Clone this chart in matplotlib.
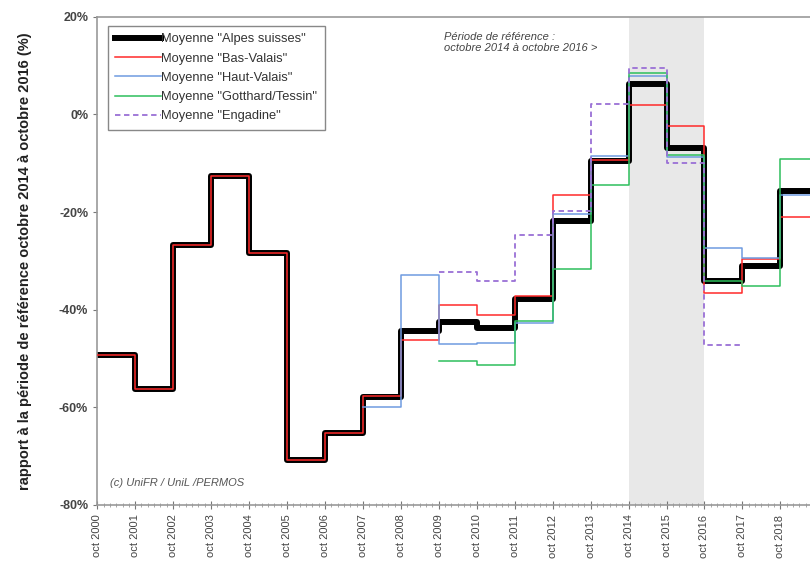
# Évolution des vitesses des glaciers rocheux par rapport à oct 2014 - oct 2016
import numpy as np
import matplotlib.pyplot as plt
from matplotlib.ticker import MultipleLocator, FuncFormatter

plt.rcParams['font.family'] = ['Liberation Sans', 'DejaVu Sans']

# années de début de chaque intervalle (oct année -> oct année+1)
years_all = list(range(2000, 2019))
alpes = [-49.2, -56.2, -26.7, -12.7, -28.3, -70.8, -65.3, -58.0, -44.3, -42.6,
         -43.8, -37.8, -21.9, -9.6, 6.3, -6.8, -34.2, -31.1, -15.6]
bas_valais = [-49.2, -56.2, -26.7, -12.7, -28.3, -70.8, -65.3, -57.8, -46.3, -39.0,
              -41.0, -37.3, -16.6, -9.4, 1.9, -2.3, -36.5, -29.6, -21.0]

years_hv = list(range(2007, 2019))
haut_valais = [-60.0, -33.0, -47.0, -46.8, -42.8, -20.3, -8.6, 7.9, -8.7,
               -27.3, -29.4, -16.5]

years_gt = list(range(2009, 2019))
gotthard = [-50.5, -51.4, -42.4, -31.6, -14.5, 8.6, -8.3, -34.2, -35.1, -9.2]

years_en = list(range(2009, 2017))
engadine = [-32.2, -34.2, -24.8, -19.7, 2.2, 9.6, -10.0, -47.2]


def steps(years, vals):
    x = list(years) + [years[-1] + 1]
    y = list(vals) + [vals[-1]]
    return x, y


fig = plt.figure(figsize=(8.1, 5.64), dpi=100)
ax = fig.add_axes([0.12, 0.105, 0.88, 0.865])

# période de référence
ax.axvspan(2014, 2016, color='#e8e8e8', zorder=0, lw=0)

x, y = steps(years_all, alpes)
ax.plot(x, y, drawstyle='steps-post', color='black', lw=4.3,
        label='Moyenne "Alpes suisses"', zorder=2)
x, y = steps(years_all, bas_valais)
ax.plot(x, y, drawstyle='steps-post', color='#ff2a2a', lw=1.1,
        label='Moyenne "Bas-Valais"', zorder=3)
x, y = steps(years_hv, haut_valais)
ax.plot(x, y, drawstyle='steps-post', color='#6f9be0', lw=1.1,
        label='Moyenne "Haut-Valais"', zorder=3)
x, y = steps(years_gt, gotthard)
ax.plot(x, y, drawstyle='steps-post', color='#2dbf5c', lw=1.1,
        label='Moyenne "Gotthard/Tessin"', zorder=3)
x, y = steps(years_en, engadine)
ax.plot(x, y, drawstyle='steps-post', color='#9a70d6', lw=1.3, ls=(0, (3, 2)),
        label='Moyenne "Engadine"', zorder=3)

ax.set_xlim(2000, 2018.78)
ax.set_ylim(-80, 20)

ax.xaxis.set_major_locator(MultipleLocator(1))
ax.xaxis.set_minor_locator(MultipleLocator(1 / 6))
ax.xaxis.set_major_formatter(FuncFormatter(lambda v, p: 'oct %d' % round(v)))
ax.yaxis.set_major_locator(MultipleLocator(20))
ax.yaxis.set_major_formatter(FuncFormatter(lambda v, p: '%d%%' % round(v)))

ax.tick_params(axis='x', which='major', direction='inout', length=6, width=0.8,
               color='#777777', labelsize=8, labelrotation=90, labelcolor='#444444', pad=4)
ax.tick_params(axis='x', which='minor', direction='inout', length=3, width=0.6,
               color='#999999')
ax.tick_params(axis='y', which='major', direction='out', length=3, width=0.8,
               color='#777777', labelsize=9, labelcolor='#444444')
for lab in ax.get_yticklabels():
    lab.set_fontweight('bold')

for side in ['left', 'bottom', 'top']:
    ax.spines[side].set_color('#999999')
    ax.spines[side].set_linewidth(1.2)
ax.spines['right'].set_visible(False)

ax.set_ylabel('rapport à la période de référence octobre 2014 à octobre 2016 (%)',
              fontsize=10.5, fontweight='bold', color='#222222', labelpad=19)

leg = ax.legend(loc='upper left', bbox_to_anchor=(0.015, 0.981), borderaxespad=0,
                fontsize=9.3, handlelength=3.6, handletextpad=0.0, borderpad=0.55,
                labelspacing=0.56, fancybox=False, framealpha=1, edgecolor='#888888')
leg.get_frame().set_linewidth(1.0)
for t in leg.get_texts():
    t.set_color('#333333')

ax.text(2009.15, 17.0, 'Période de référence :\noctobre 2014 à octobre 2016 >',
        fontsize=8, style='italic', color='#444444', ha='left', va='top')
ax.text(2000.35, -75.5, '(c) UniFR / UniL /PERMOS', fontsize=8, style='italic',
        color='#555555', ha='left', va='center')

fig.savefig('out.png', dpi=100)
